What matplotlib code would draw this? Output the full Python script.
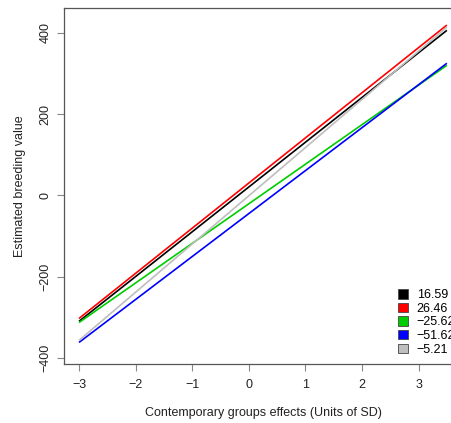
import numpy as np
import matplotlib
matplotlib.use('Agg')
import matplotlib.pyplot as plt
from matplotlib.patches import Patch

plt.rcParams['font.family'] = ['Liberation Sans', 'DejaVu Sans']

# Đường thẳng: giá trị đầu/cuối của mỗi nhóm
x_range = [-3.0, 3.5]
labels = ['16.59', '26.46', '\u221225.62', '\u221251.62', '\u22125.21']
colors = ['black', 'red', '#00cd00', 'blue', '#bebebe']
y_start = [-310, -303, -313, -362, -357]
y_end = [406, 419, 320, 325, 414]

xticks = [-3, -2, -1, 0, 1, 2, 3]
yticks = [-400, -200, 0, 200, 400]

W, H = 452, 423
fig = plt.figure(figsize=(W / 100, H / 100), dpi=100)
# khung vẽ bị cắt ở bên phải như ảnh gốc
ax = fig.add_axes([64 / W, 59 / H, 399 / W, 356 / H])

for y0, y1, c in zip(y_start, y_end, colors):
    ax.plot(x_range, [y0, y1], color=c, lw=1.2, solid_capstyle='butt')

ax.set_xlim(-3.265, 3.785)
ax.set_ylim(-415, 461)
ax.set_xticks(xticks)
ax.set_yticks(yticks)
ax.tick_params(direction='out', length=5, width=0.8, color='#888888',
               labelsize=9, labelcolor='#222222', pad=6)
ax.tick_params(axis='y', pad=4)
for lab in ax.get_yticklabels():
    lab.set_rotation(90)
    lab.set_va('center')
for s in ax.spines.values():
    s.set_color('#555555')
    s.set_linewidth(0.9)

ax.set_xlabel('Contemporary groups effects (Units of SD)', fontsize=9,
              color='#222222', labelpad=11)
ax.set_ylabel('Estimated breeding value', fontsize=9, color='#222222',
              labelpad=10)

handles = [Patch(facecolor=c, edgecolor='#444444', linewidth=0.6) for c in colors]
fig.legend(handles, labels, loc='upper left',
           bbox_to_anchor=(398 / W, 1 - 289 / H), frameon=False,
           fontsize=9, handlelength=0.8, handleheight=0.8,
           handletextpad=0.7, labelspacing=0.12, borderpad=0,
           borderaxespad=0)

fig.savefig('out.png', dpi=100)
